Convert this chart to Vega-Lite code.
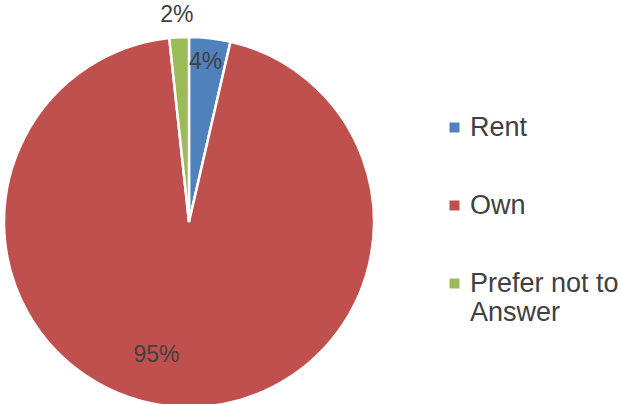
{
  "$schema": "https://vega.github.io/schema/vega-lite/v6.json",
  "width": 370,
  "height": 370,
  "autosize": {"type": "none"},
  "padding": {"left": 4, "top": 37, "right": 247, "bottom": 0},
  "data": {
    "values": [
      {"cat": "Rent", "share": 0.036, "ord": 1},
      {"cat": "Own", "share": 0.947, "ord": 2},
      {"cat": "Prefer not to Answer", "share": 0.017, "ord": 3}
    ]
  },
  "encoding": {
    "theta": {"field": "share", "type": "quantitative", "stack": true},
    "order": {"field": "ord", "type": "quantitative"},
    "color": {
      "field": "cat",
      "type": "nominal",
      "scale": {
        "domain": ["Rent", "Own", "Prefer not to Answer"],
        "range": ["#4F81BD", "#C0504D", "#9BBB59"]
      },
      "legend": {
        "title": null,
        "orient": "none",
        "legendX": 437,
        "legendY": 77,
        "symbolType": "square",
        "symbolSize": 100,
        "symbolStrokeWidth": 0,
        "labelFont": "Liberation Sans",
        "labelFontSize": 27,
        "labelColor": "#404040",
        "labelOffset": 2,
        "labelLimit": 300,
        "rowPadding": 50,
        "labelExpr": "datum.label == 'Prefer not to Answer' ? ['Prefer not to', 'Answer'] : datum.label"
      }
    }
  },
  "layer": [
    {
      "mark": {"type": "arc", "outerRadius": 185, "stroke": "white", "strokeWidth": 2.5}
    },
    {
      "mark": {"type": "text", "radius": 161, "thetaOffset": -0.01, "font": "Liberation Sans", "fontSize": 23},
      "encoding": {
        "text": {"condition": {"test": "datum.cat == 'Rent'", "field": "share", "format": ".0%"}, "value": ""},
        "color": {"value": "#404040"}
      }
    },
    {
      "mark": {"type": "text", "radius": 137, "thetaOffset": 0.18, "font": "Liberation Sans", "fontSize": 23},
      "encoding": {
        "text": {"condition": {"test": "datum.cat == 'Own'", "field": "share", "format": ".0%"}, "value": ""},
        "color": {"value": "#404040"}
      }
    },
    {
      "mark": {"type": "text", "radius": 207, "thetaOffset": -0.005, "font": "Liberation Sans", "fontSize": 23},
      "encoding": {
        "text": {"condition": {"test": "datum.cat == 'Prefer not to Answer'", "field": "share", "format": ".0%"}, "value": ""},
        "color": {"value": "#404040"}
      }
    }
  ],
  "config": {"view": {"stroke": null}}
}
